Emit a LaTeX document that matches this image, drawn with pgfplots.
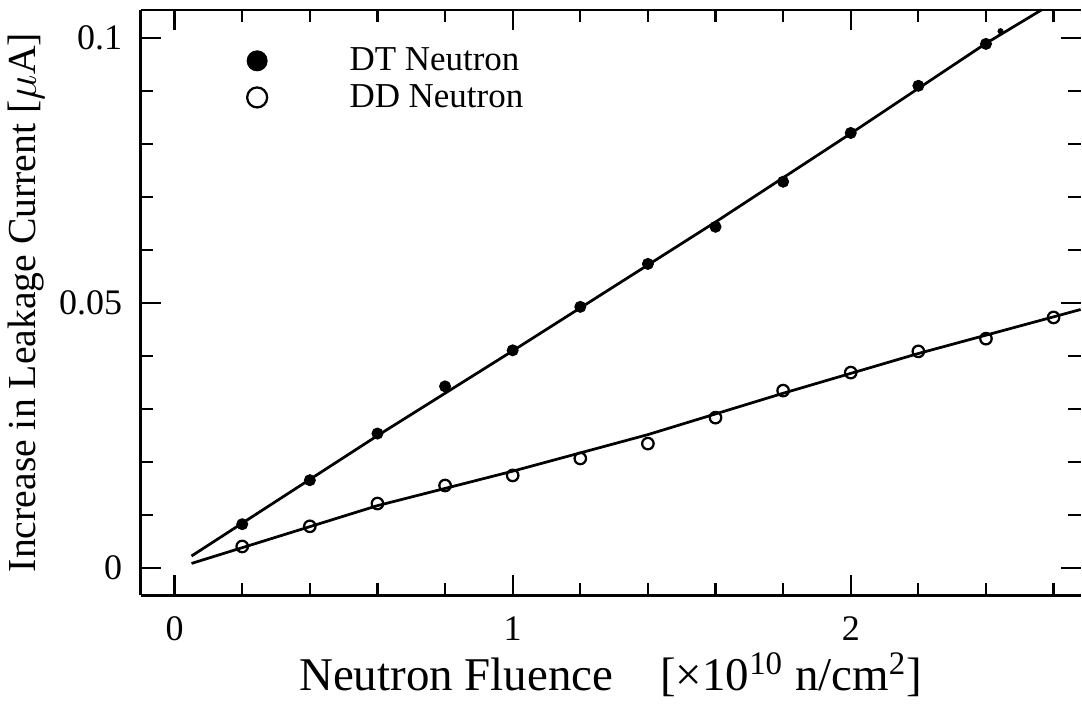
\documentclass[border=0pt]{standalone}
\usepackage{pgfplots}
\pgfplotsset{compat=1.18}
\usepackage{fontspec}
\setmainfont{Liberation Serif}
\pgfplotsset{
  bigmark/.style={legend image code/.code={\draw[#1, mark size=4pt] plot coordinates {(0.3cm,0cm)};}},
  frame/.style={
    scale only axis,
    width=376.4pt, height=234.4pt,
    xmin=-0.1, xmax=2.68,
    ymin=-0.0051, ymax=0.1053,
    tick align=inside,
    major tick length=8pt, minor tick length=5pt,
    axis line style={line width=1.1pt},
    tick style={line width=0.9pt, black},
    ytick={0,0.05,0.1},
    minor ytick={0.01,0.02,0.03,0.04,0.06,0.07,0.08,0.09},
  },
}

\begin{document}
\begin{tikzpicture}
% right-hand ticks only (the right spine lies outside the picture)
\begin{scope}[overlay]
\begin{axis}[frame,
  axis x line=none, axis y line*=right, y axis line style={draw=none},
  yticklabels={}]
\end{axis}
\end{scope}
\begin{axis}[frame,
  axis x line*=box, axis y line*=left,
  xtick={0,1,2}, xticklabels={0,1,2},
  minor xtick={0.2,0.4,0.6,0.8,1.2,1.4,1.6,1.8,2.2,2.4,2.6},
  yticklabels={0,0.05,0.1},
  every tick label/.style={font=\fontsize{14.4}{16}\selectfont},
  xticklabel style={yshift=-5pt},
  yticklabel style={xshift=-4pt},
  xlabel={Neutron Fluence\quad[×10\textsuperscript{10} n/cm\textsuperscript{2}]},
  ylabel={Increase in Leakage Current [$\mu$A]},
  xlabel style={font=\fontsize{18.8}{20}\selectfont, yshift=2pt},
  ylabel style={font=\fontsize{15.9}{18}\selectfont, yshift=-1pt},
  clip=false,
  bigmark,
  legend style={at={(axis cs:0.191,0.1002)}, anchor=north west, draw=none, fill=none,
    font=\fontsize{14}{16}\selectfont, row sep=0pt, column sep=31pt},
  legend cell align=left,
]
% DT neutron data
\addplot[only marks, mark=*, mark size=2.2pt, black]
  coordinates {
  (0.2,0.0083) (0.4,0.0166) (0.6,0.0254) (0.8,0.0343) (1.0,0.0411)
  (1.2,0.0493) (1.4,0.0574) (1.6,0.0644) (1.8,0.0729) (2.0,0.0821)
  (2.2,0.0910) (2.4,0.0989)};
\addlegendentry{DT Neutron}
% DD neutron data
\addplot[only marks, mark=o, mark size=2.3pt, black, mark options={line width=0.9pt, fill=white}]
  coordinates {
  (0.2,0.0041) (0.4,0.0079) (0.6,0.0122) (0.8,0.0156) (1.0,0.0175)
  (1.2,0.0207) (1.4,0.0235) (1.6,0.0284) (1.8,0.0335) (2.0,0.0369)
  (2.2,0.0409) (2.4,0.0433) (2.6,0.0473)};
\addlegendentry{DD Neutron}
% stray dot
\addplot[only marks, mark=*, mark size=1pt, black, forget plot]
  coordinates {(2.443,0.1013)};
% fitted lines
\addplot[black, line width=1.1pt, forget plot] coordinates {
  (0.05,0.0023) (0.6,0.0250) (1.0,0.0410) (1.6,0.0653) (2.0,0.0820) (2.4,0.0990) (2.564,0.1053)};
\addplot[black, line width=1.1pt, forget plot] coordinates {
  (0.05,0.0009) (0.6,0.0118) (1.0,0.0183) (1.4,0.0252) (1.8,0.0330) (2.2,0.0405) (2.68,0.0488)};
\end{axis}
\path (current axis.north) ++(0,4pt);
\end{tikzpicture}
\end{document}
